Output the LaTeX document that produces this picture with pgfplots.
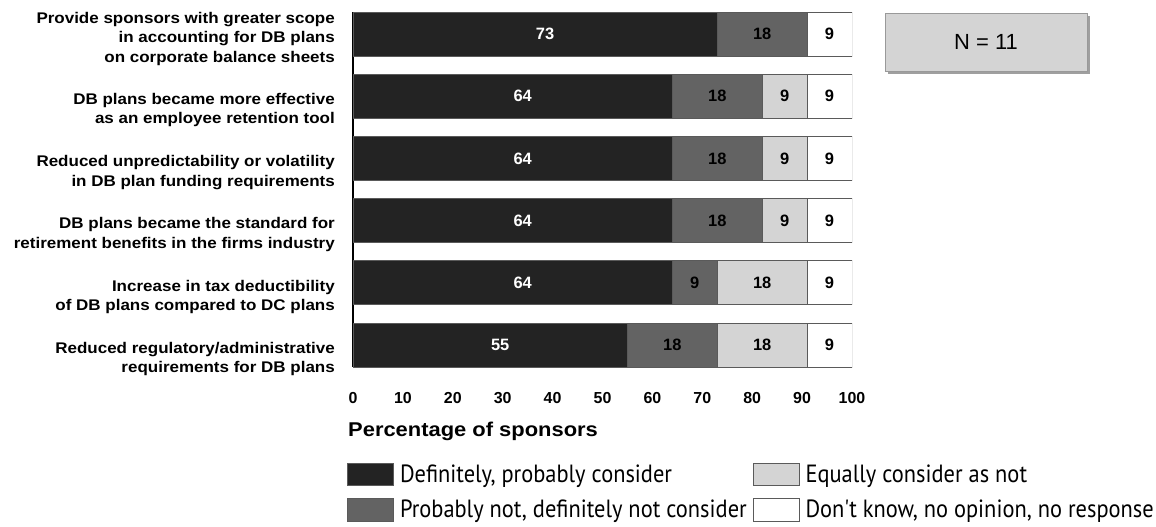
\documentclass[border=0pt]{standalone}
\usepackage{fontspec}
\setmainfont{Liberation Sans}
\newfontfamily\labfont[FakeStretch=1.10]{Liberation Sans}
\newfontfamily\legfont[FakeStretch=0.90]{PT Sans}
\usepackage{pgfplots}
\pgfplotsset{compat=1.18}
\definecolor{cDark}{HTML}{232323}
\definecolor{cMid}{HTML}{636363}
\definecolor{cLight}{HTML}{D4D4D4}
\definecolor{cEdge}{HTML}{5A5A5A}
\pgfplotsset{
  mylegend/.style={legend image code/.code={\draw[##1, draw=cEdge, line width=0.8bp] (0bp,-11bp) rectangle (46bp,11bp);}},
}
\begin{document}
\begin{tikzpicture}
\useasboundingbox (0,0) rectangle (1156bp,-527bp);
\begin{axis}[
  at={(353bp,-367bp)}, anchor=south west,
  scale only axis, width=499bp, height=355bp,
  xbar stacked, bar width=44bp,
  xmin=0, xmax=100,
  ymin=-0.353, ymax=5.353,
  ytick={-0.225,0.775,1.775,2.775,3.775,4.92},
  yticklabels={
    {Reduced regulatory/administrative\\requirements for DB plans},
    {Increase in tax deductibility\\of DB plans compared to DC plans},
    {DB plans became the standard for\\retirement benefits in the firms industry},
    {Reduced unpredictability or volatility\\in DB plan funding requirements},
    {DB plans became more effective\\as an employee retention tool},
    {Provide sponsors with greater scope\\in accounting for DB plans\\on corporate balance sheets}},
  yticklabel style={align=right, anchor=east, inner sep=0pt, xshift=-18bp,
    font=\labfont\bfseries\fontsize{15.5}{19.5}\selectfont},
  xtick={0,10,...,100},
  xticklabel style={anchor=center, yshift=-31bp, font=\bfseries\fontsize{16}{16}\selectfont},
  /pgf/number format/assume math mode=true,
  axis lines*=left,
  x axis line style={draw=none},
  y axis line style={-, line width=2.6bp, black},
  major tick length=0pt,
  xlabel={Percentage of sponsors},
  xlabel style={at={(axis description cs:-0.010,-0.180)}, anchor=west, inner sep=0pt,
    font=\labfont\bfseries\fontsize{20}{20}\selectfont},
  point meta=explicit,
  nodes near coords={\pgfmathfloatifflags{\pgfplotspointmeta}{0}{}{\pgfmathprintnumber{\pgfplotspointmeta}}},
  nodes near coords style={font=\bfseries\fontsize{16.5}{16.5}\selectfont},
  legend cell align=left,
  transpose legend,
  legend columns=2,
  legend style={at={(axis description cs:-0.012,-0.269)}, anchor=north west,
    draw=none, fill=none, inner sep=0pt, column sep=6bp, row sep=13bp,
    font=\legfont\fontsize{25}{25}\selectfont, nodes={inner sep=0pt}},
]
\addplot[mylegend, fill=cDark, draw=cEdge, line width=0.8bp, nodes near coords style={text=white, xshift=10bp}]
  coordinates {(55,0) [55] (64,1) [64] (64,2) [64] (64,3) [64] (64,4) [64] (73,5) [73]};
\addlegendentry{Definitely, probably consider}
\addplot[mylegend, fill=cMid, draw=cEdge, line width=0.8bp]
  coordinates {(18,0) [18] (9,1) [9] (18,2) [18] (18,3) [18] (18,4) [18] (18,5) [18]};
\addlegendentry{Probably not, definitely not consider}
\addplot[mylegend, fill=cLight, draw=cEdge, line width=0.8bp]
  coordinates {(18,0) [18] (18,1) [18] (9,2) [9] (9,3) [9] (9,4) [9] (0,5) [0]};
\addlegendentry{Equally consider as not}
\addplot[mylegend, fill=white, draw=cEdge, line width=0.8bp]
  coordinates {(9,0) [9] (9,1) [9] (9,2) [9] (9,3) [9] (9,4) [9] (9,5) [9]};
\addlegendentry{Don't know, no opinion, no response}
\end{axis}
\fill[gray!75] (888bp,-16bp) rectangle (1090bp,-74bp);
\draw[fill=cLight, draw=gray!80, line width=0.6bp] (885bp,-13bp) rectangle (1087bp,-71bp);
\node[font=\fontsize{22}{22}\selectfont] at (986bp,-42bp) {N = 11};
\end{tikzpicture}
\end{document}
